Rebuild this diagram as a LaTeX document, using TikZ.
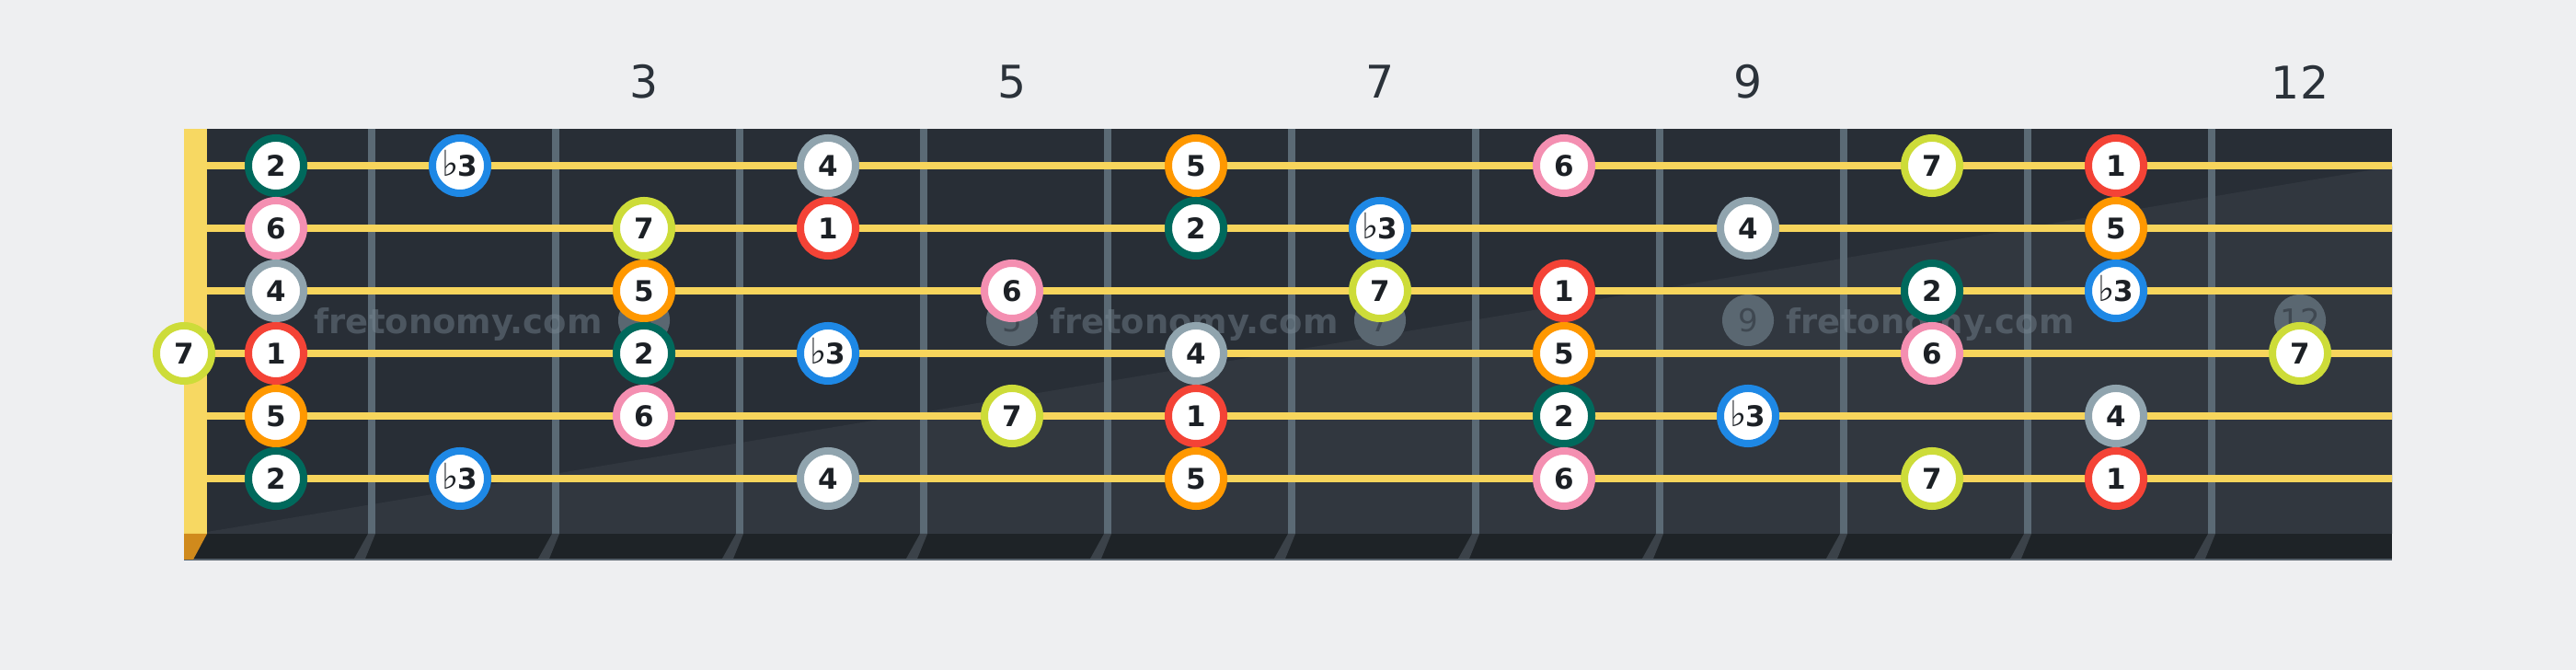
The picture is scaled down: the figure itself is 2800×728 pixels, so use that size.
\documentclass[tikz,border=0pt]{standalone}
\usepackage{fontspec}
\setmainfont{DejaVu Sans}
\definecolor{pagebg}{HTML}{EEEFF1}
\definecolor{boardtop}{HTML}{282E36}
\definecolor{boardlow}{HTML}{31373F}
\definecolor{boardfoot}{HTML}{1E2327}
\definecolor{footline}{HTML}{56616B}
\definecolor{nutyellow}{HTML}{F7D862}
\definecolor{nutfoot}{HTML}{D08A1C}
\definecolor{fretgray}{HTML}{5B6A75}
\definecolor{fretfoot}{HTML}{3B4249}
\definecolor{stringyellow}{HTML}{F7D55C}
\definecolor{markergray}{HTML}{5A6771}
\definecolor{markertext}{HTML}{3F4851}
\definecolor{labelgray}{HTML}{2B323A}
\definecolor{wmgray}{HTML}{7A8894}
\definecolor{notetext}{HTML}{1C2025}
\definecolor{tonicred}{HTML}{F44336}
\definecolor{secondteal}{HTML}{00695C}
\definecolor{thirdblue}{HTML}{1E88E5}
\definecolor{fourthgray}{HTML}{90A4AE}
\definecolor{fifthorange}{HTML}{FF9800}
\definecolor{sixthpink}{HTML}{F48FB1}
\definecolor{seventhlime}{HTML}{CDDC39}
\newcommand{\flatsym}{{\mdseries\fontsize{11}{12}\selectfont\smash{♭}}\kern-0.3pt}
\tikzstyle{note} = [circle, draw, fill=white, line width=0.08cm, minimum size=0.6cm, inner sep=0pt, text=notetext, font=\fontsize{8.8}{10}\selectfont\bfseries]
\tikzstyle{tonic} = [note, draw=tonicred]
\tikzstyle{second} = [note, draw=secondteal]
\tikzstyle{minthird} = [note, draw=thirdblue]
\tikzstyle{fourth} = [note, draw=fourthgray]
\tikzstyle{fifth} = [note, draw=fifthorange]
\tikzstyle{sixth} = [note, draw=sixthpink]
\tikzstyle{seventh} = [note, draw=seventhlime]
\tikzstyle{marker} = [circle, fill=markergray, minimum size=0.56cm, inner sep=0pt, text=markertext, font=\fontsize{9.7}{11}\selectfont]
\tikzstyle{fretnum} = [inner sep=0pt, text=labelgray, font=\fontsize{13.9}{16}\selectfont]
\tikzstyle{watermark} = [anchor=base west, inner sep=0pt, text=wmgray, text opacity=0.45, font=\fontsize{10.5}{12}\selectfont\bfseries]
\tikzstyle{guitarstring} = [line width=0.08cm, draw=stringyellow]
\tikzstyle{fretwire} = [fill=fretgray]
\tikzstyle{fretslant} = [fill=fretfoot]

\begin{document}
\begin{tikzpicture}[x=0.01cm, y=-0.01cm]
            \fill [pagebg] (0,0) rectangle (2800,728);
            \useasboundingbox (0,0) rectangle (2800,728);

            \fill [boardtop] (225,140) rectangle (2600,580);
            \fill [boardlow] (225,578) -- (2600,181) -- (2600,580) -- (225,580) -- cycle;
            \fill [boardfoot] (200,580) rectangle (2600,608);
            \draw [footline, line width=0.02cm] (200,608) -- (2600,608);
            \fill [nutyellow] (200,140) rectangle (225,580);
            \fill [nutfoot] (200,580) -- (225,580) -- (210,608) -- (200,608) -- cycle;

            \fill [fretwire] (400,140) rectangle (408,580);
            \fill [fretwire] (600,140) rectangle (608,580);
            \fill [fretwire] (800,140) rectangle (808,580);
            \fill [fretwire] (1000,140) rectangle (1008,580);
            \fill [fretwire] (1200,140) rectangle (1208,580);
            \fill [fretwire] (1400,140) rectangle (1408,580);
            \fill [fretwire] (1600,140) rectangle (1608,580);
            \fill [fretwire] (1800,140) rectangle (1808,580);
            \fill [fretwire] (2000,140) rectangle (2008,580);
            \fill [fretwire] (2200,140) rectangle (2208,580);
            \fill [fretwire] (2400,140) rectangle (2408,580);
            \fill [fretslant] (400,580) -- (408,580) -- (397,607) -- (385,607) -- cycle;
            \fill [fretslant] (600,580) -- (608,580) -- (597,607) -- (585,607) -- cycle;
            \fill [fretslant] (800,580) -- (808,580) -- (797,607) -- (785,607) -- cycle;
            \fill [fretslant] (1000,580) -- (1008,580) -- (997,607) -- (985,607) -- cycle;
            \fill [fretslant] (1200,580) -- (1208,580) -- (1197,607) -- (1185,607) -- cycle;
            \fill [fretslant] (1400,580) -- (1408,580) -- (1397,607) -- (1385,607) -- cycle;
            \fill [fretslant] (1600,580) -- (1608,580) -- (1597,607) -- (1585,607) -- cycle;
            \fill [fretslant] (1800,580) -- (1808,580) -- (1797,607) -- (1785,607) -- cycle;
            \fill [fretslant] (2000,580) -- (2008,580) -- (1997,607) -- (1985,607) -- cycle;
            \fill [fretslant] (2200,580) -- (2208,580) -- (2197,607) -- (2185,607) -- cycle;
            \fill [fretslant] (2400,580) -- (2408,580) -- (2397,607) -- (2385,607) -- cycle;

            \node (lab3) [fretnum] at (700,89) {3};
            \node (lab5) [fretnum] at (1100,89) {5};
            \node (lab7) [fretnum] at (1500,89) {7};
            \node (lab9) [fretnum] at (1900,89) {9};
            \node (lab12) [fretnum] at (2500,89) {12};

            \node (dot3) [marker] at (700,348) {3};
            \node (dot5) [marker] at (1100,348) {5};
            \node (dot7) [marker] at (1500,348) {7};
            \node (dot9) [marker] at (1900,348) {9};
            \node (dot12) [marker] at (2500,348) {12};

            \node (wm1) [watermark] at (341,363) {fretonomy.com};
            \node (wm2) [watermark] at (1141,363) {fretonomy.com};
            \node (wm3) [watermark] at (1941,363) {fretonomy.com};

            \draw [guitarstring] (225,180) -- (2600,180);
            \draw [guitarstring] (225,248) -- (2600,248);
            \draw [guitarstring] (225,316) -- (2600,316);
            \draw [guitarstring] (225,384) -- (2600,384);
            \draw [guitarstring] (225,452) -- (2600,452);
            \draw [guitarstring] (225,520) -- (2600,520);

            \node (s1f1) [second] at (300,180) {2};
            \node (s1f2) [minthird] at (500,180) {\flatsym3};
            \node (s1f4) [fourth] at (900,180) {4};
            \node (s1f6) [fifth] at (1300,180) {5};
            \node (s1f8) [sixth] at (1700,180) {6};
            \node (s1f10) [seventh] at (2100,180) {7};
            \node (s1f11) [tonic] at (2300,180) {1};

            \node (s2f1) [sixth] at (300,248) {6};
            \node (s2f3) [seventh] at (700,248) {7};
            \node (s2f4) [tonic] at (900,248) {1};
            \node (s2f6) [second] at (1300,248) {2};
            \node (s2f7) [minthird] at (1500,248) {\flatsym3};
            \node (s2f9) [fourth] at (1900,248) {4};
            \node (s2f11) [fifth] at (2300,248) {5};

            \node (s3f1) [fourth] at (300,316) {4};
            \node (s3f3) [fifth] at (700,316) {5};
            \node (s3f5) [sixth] at (1100,316) {6};
            \node (s3f7) [seventh] at (1500,316) {7};
            \node (s3f8) [tonic] at (1700,316) {1};
            \node (s3f10) [second] at (2100,316) {2};
            \node (s3f11) [minthird] at (2300,316) {\flatsym3};

            \node (s4f0) [seventh] at (200,384) {7};
            \node (s4f1) [tonic] at (300,384) {1};
            \node (s4f3) [second] at (700,384) {2};
            \node (s4f4) [minthird] at (900,384) {\flatsym3};
            \node (s4f6) [fourth] at (1300,384) {4};
            \node (s4f8) [fifth] at (1700,384) {5};
            \node (s4f10) [sixth] at (2100,384) {6};
            \node (s4f12) [seventh] at (2500,384) {7};

            \node (s5f1) [fifth] at (300,452) {5};
            \node (s5f3) [sixth] at (700,452) {6};
            \node (s5f5) [seventh] at (1100,452) {7};
            \node (s5f6) [tonic] at (1300,452) {1};
            \node (s5f8) [second] at (1700,452) {2};
            \node (s5f9) [minthird] at (1900,452) {\flatsym3};
            \node (s5f11) [fourth] at (2300,452) {4};

            \node (s6f1) [second] at (300,520) {2};
            \node (s6f2) [minthird] at (500,520) {\flatsym3};
            \node (s6f4) [fourth] at (900,520) {4};
            \node (s6f6) [fifth] at (1300,520) {5};
            \node (s6f8) [sixth] at (1700,520) {6};
            \node (s6f10) [seventh] at (2100,520) {7};
            \node (s6f11) [tonic] at (2300,520) {1};
\end{tikzpicture}
\end{document}
